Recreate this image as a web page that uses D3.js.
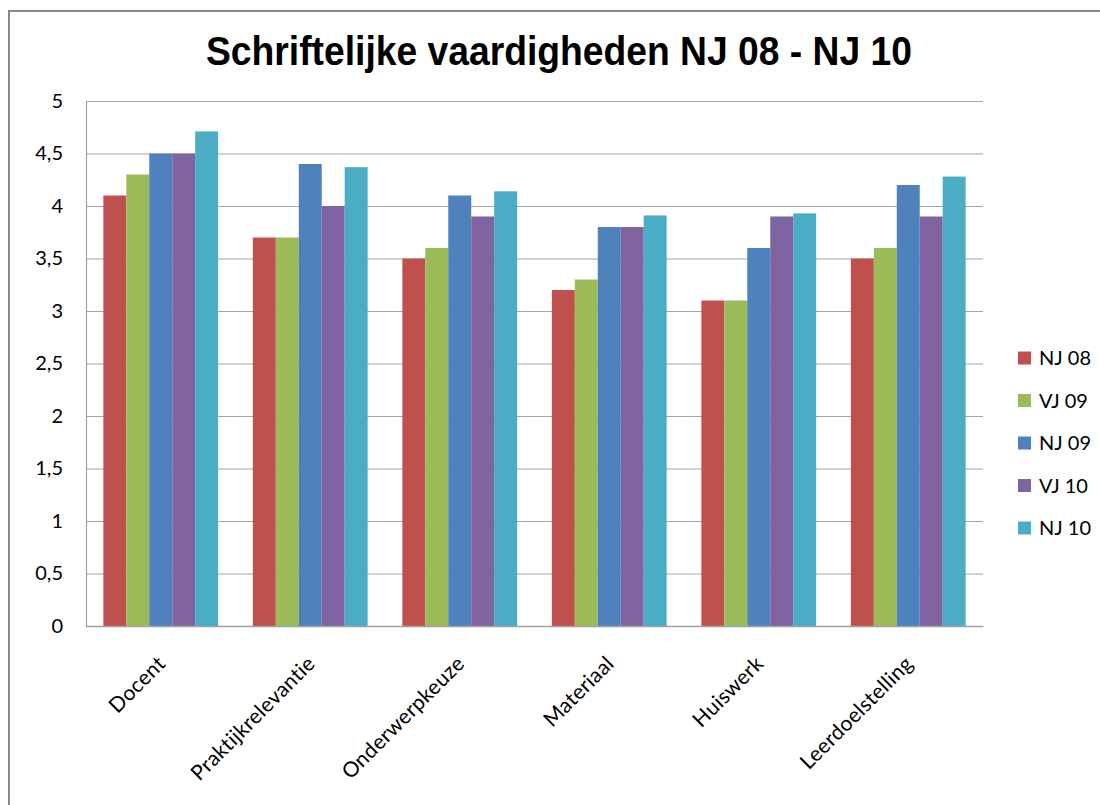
<!DOCTYPE html>
<html>
<head>
<meta charset="utf-8">
<script src="https://cdn.jsdelivr.net/npm/d3@7"></script>
<style>
  html, body { margin: 0; padding: 0; background: #fff; }
  svg { display: block; }
</style>
</head>
<body>
<svg id="chart" width="1100" height="805"></svg>
<script>
const categories = ["Docent", "Praktijkrelevantie", "Onderwerpkeuze", "Materiaal", "Huiswerk", "Leerdoelstelling"];
const seriesNames = ["NJ 08", "VJ 09", "NJ 09", "VJ 10", "NJ 10"];
const nj08 = [4.1, 3.7, 3.5, 3.2, 3.1, 3.5];
const vj09 = [4.3, 3.7, 3.6, 3.3, 3.1, 3.6];
const nj09 = [4.5, 4.4, 4.1, 3.8, 3.6, 4.2];
const vj10 = [4.5, 4.0, 3.9, 3.8, 3.9, 3.9];
const nj10 = [4.71, 4.37, 4.14, 3.91, 3.93, 4.28];
const yTicks = [0, 0.5, 1, 1.5, 2, 2.5, 3, 3.5, 4, 4.5, 5];
const colors = ["#C0504D", "#9BBB59", "#4F81BD", "#8064A2", "#4BACC6"];
const title = "Schriftelijke vaardigheden NJ 08 - NJ 10";

const seriesValues = [nj08, vj09, nj09, vj10, nj10];

const svg = d3.select("#chart");
const plot = { left: 86, right: 983, top: 101, bottom: 626 };
const labelFont = "Lato, 'Open Sans', sans-serif";

// outer chart border
svg.append("rect")
  .attr("x", 9).attr("y", 11)
  .attr("width", 1300).attr("height", 1000)
  .attr("fill", "#fff").attr("stroke", "#8a8a8a").attr("stroke-width", 2);

// title
svg.append("text")
  .attr("x", 559).attr("y", 65)
  .attr("text-anchor", "middle")
  .attr("font-family", "Liberation Sans, Arial, sans-serif")
  .attr("font-weight", "bold")
  .attr("font-size", 40)
  .attr("textLength", 706)
  .attr("lengthAdjust", "spacingAndGlyphs")
  .attr("fill", "#000")
  .text(title);

const x0 = d3.scaleBand().domain(categories).range([plot.left, plot.right]).paddingInner(0).paddingOuter(0);
const groupPad = x0.bandwidth() * 34.7 / 149.5 / 2;
const x1 = d3.scaleBand().domain(seriesNames)
  .range([groupPad, x0.bandwidth() - groupPad]).padding(0);
const y = d3.scaleLinear().domain([0, 5]).range([plot.bottom, plot.top]);

// gridlines + y axis
const yAxis = d3.axisLeft(y).tickValues(yTicks)
  .tickSize(-(plot.right - plot.left))
  .tickFormat(d => String(d).replace(".", ","))
  .tickPadding(23);
const gy = svg.append("g").attr("transform", `translate(${plot.left},0)`).call(yAxis);
gy.select(".domain").attr("stroke", "#a0a0a0").attr("stroke-width", 1.2);
gy.selectAll(".tick line").attr("stroke", "#a6a6a6").attr("stroke-width", 1.2);
gy.selectAll(".tick text")
  .attr("font-family", labelFont)
  .attr("font-size", 20)
  .attr("fill", "#000");

// bars
const groups = svg.append("g").selectAll("g")
  .data(categories)
  .join("g")
  .attr("transform", d => `translate(${x0(d)},0)`);

groups.selectAll("rect")
  .data((c, ci) => seriesNames.map((s, si) => ({ s, si, v: seriesValues[si][ci] })))
  .join("rect")
  .attr("x", d => x1(d.s))
  .attr("width", x1.bandwidth())
  .attr("y", d => y(d.v))
  .attr("height", d => y(0) - y(d.v))
  .attr("fill", d => colors[d.si]);

// x axis line
const xAxis = d3.axisBottom(x0).tickSize(0).tickFormat("");
const gx = svg.append("g").attr("transform", `translate(0,${plot.bottom})`).call(xAxis);
gx.select(".domain").attr("stroke", "#a0a0a0").attr("stroke-width", 1.5);

// x labels rotated
svg.append("g").selectAll("text")
  .data(categories)
  .join("text")
  .attr("transform", d => `translate(${x0(d) + x0.bandwidth() / 2 + 6},${plot.bottom + 39}) rotate(-45)`)
  .attr("text-anchor", "end")
  .attr("font-family", labelFont)
  .attr("font-size", 21)
  .attr("letter-spacing", 0.3)
  .attr("fill", "#000")
  .text(d => d);

// legend
const legend = svg.append("g").selectAll("g")
  .data(seriesNames)
  .join("g")
  .attr("transform", (d, i) => `translate(1018,${358 + i * 42.5})`);
legend.append("rect")
  .attr("x", 0).attr("y", -6.5)
  .attr("width", 13).attr("height", 13)
  .attr("fill", (d, i) => colors[i]);
legend.append("text")
  .attr("x", 21).attr("y", 7)
  .attr("font-family", labelFont)
  .attr("font-size", 20)
  .attr("fill", "#000")
  .text(d => d);
</script>
</body>
</html>
